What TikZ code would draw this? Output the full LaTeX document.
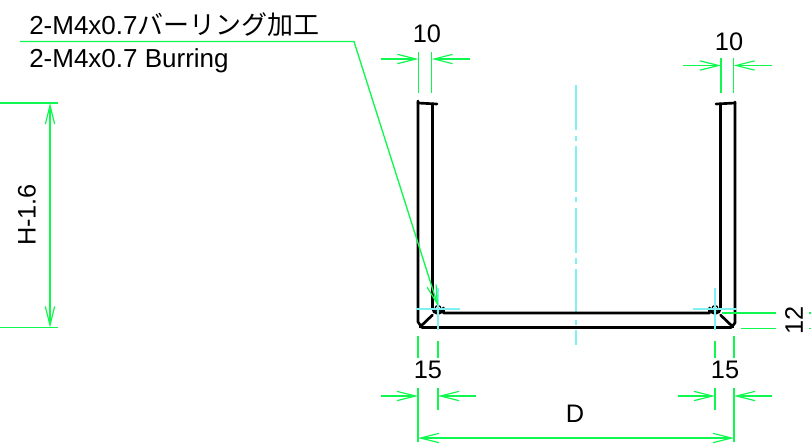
\documentclass[tikz,border=0pt]{standalone}
\usepackage{fontspec}
\setmainfont{Liberation Sans}
\newfontfamily\jpfont{Noto Sans CJK JP}
\usetikzlibrary{arrows.meta}
\definecolor{dimgreen}{HTML}{10F850}
\definecolor{axiscyan}{HTML}{80F0F0}
\begin{document}
\begin{tikzpicture}[x=0.75pt,y=-0.75pt,
  part line/.style = {line width=2pt,line cap=round,line join=round},
  dim line/.style = {color=dimgreen,line width=1pt},
  dim arrow/.style = {dim line,-{Straight Barb[length=14pt,width=7pt,line width=0.9pt]}},
  axis line/.style = {color=axiscyan,line width=0.9pt},
  dim text/.style = {inner sep=0pt,font=\fontsize{19}{22}\selectfont},
  note text/.style = {inner sep=0pt,anchor=base west,font=\fontsize{19.5}{22}\selectfont},
]
  \useasboundingbox (0,0) rectangle (811,446);
  % centre lines
  \draw[axis line,dash pattern=on 34pt off 4pt on 4pt off 4pt] (576,85) -- (576,345);
  % channel section
  \draw[part line] (418,101) -- (418,322) -- (422,327.5) -- (731,327.5) -- (735,323) -- (735,102);
  \draw[part line] (418,103) -- (437,104) (716,104) -- (735,103);
  \draw[part line] (432.5,104) -- (432.5,308) arc[start angle=180,end angle=0,radius=5.5] -- (443.5,313) -- (709.5,313)
    -- (709.5,308) arc[start angle=180,end angle=0,radius=5.5] -- (720.5,104);
  \draw[part line] (432.5,315) -- (420,327);
  \draw[part line] (720.5,315) -- (733,327);
  \draw[line width=0.9pt] (438,308.5) circle[radius=3] (715,308.5) circle[radius=3];
  \foreach \cx in {438,715} {
    \draw[axis line] (\cx-22,309) -- (\cx+22,309);
    \draw[axis line] (\cx,288) -- (\cx,330);
  }
  % extension lines
  \foreach \ex/\eya/\eyb in {418.5/52/93, 431.5/52/93, 721/58/93, 733.5/58/93,
      418/336/358, 438/341/358, 715/341/358, 734/336/358,
      418/388/442, 438/388/410, 715/388/410, 734/388/442}
    \draw[dim line] (\ex,\eya) -- (\ex,\eyb);
  \foreach \eya/\exa/\exb in {103/0/58, 327.5/0/58, 313/722/776, 328.5/741/776, 313/809/811, 328.5/809/811}
    \draw[dim line] (\exa,\eya) -- (\exb,\eya);
  % dimensions
  \foreach \dy/\xa/\xb/\xc/\xd in {59/381/418.5/431.5/470, 65.5/683/721/733.5/772,
      396/381/418/438/476, 396/678/715/734/772} {
    \draw[dim arrow] (\xa,\dy) -- (\xb,\dy);
    \draw[dim arrow] (\xd,\dy) -- (\xc,\dy);
  }
  \draw[dim arrow] (576,438) -- (418,438);
  \draw[dim arrow] (576,438) -- (734,438);
  \draw[dim arrow] (50,215) -- (50,103);
  \draw[dim arrow] (50,215) -- (50,327.5);
  % leader
  \coordinate (leader start) at (20,41.5);
  \coordinate (leader knee) at (354,41.5);
  \coordinate (leader end) at (438,306);
  \draw[dim arrow] (leader start) -- (leader knee) -- (leader end);
  % labels
  \node[note text] (note ja) at (29,34) {2-M4x0.7{\jpfont バーリング加工}};
  \node[note text] (note en) at (29,67) {2-M4x0.7 Burring};
  \node[dim text] (top left) at (427,34) {10};
  \node[dim text] (top right) at (729,42) {10};
  \node[dim text] (bottom left) at (428,370) {15};
  \node[dim text] (bottom right) at (725,370) {15};
  \node[dim text] (depth) at (575,414) {D};
  \node[dim text,rotate=90] (height) at (27,215) {H-1.6};
  \node[dim text,rotate=90] (lip) at (794,320) {12};
\end{tikzpicture}
\end{document}
